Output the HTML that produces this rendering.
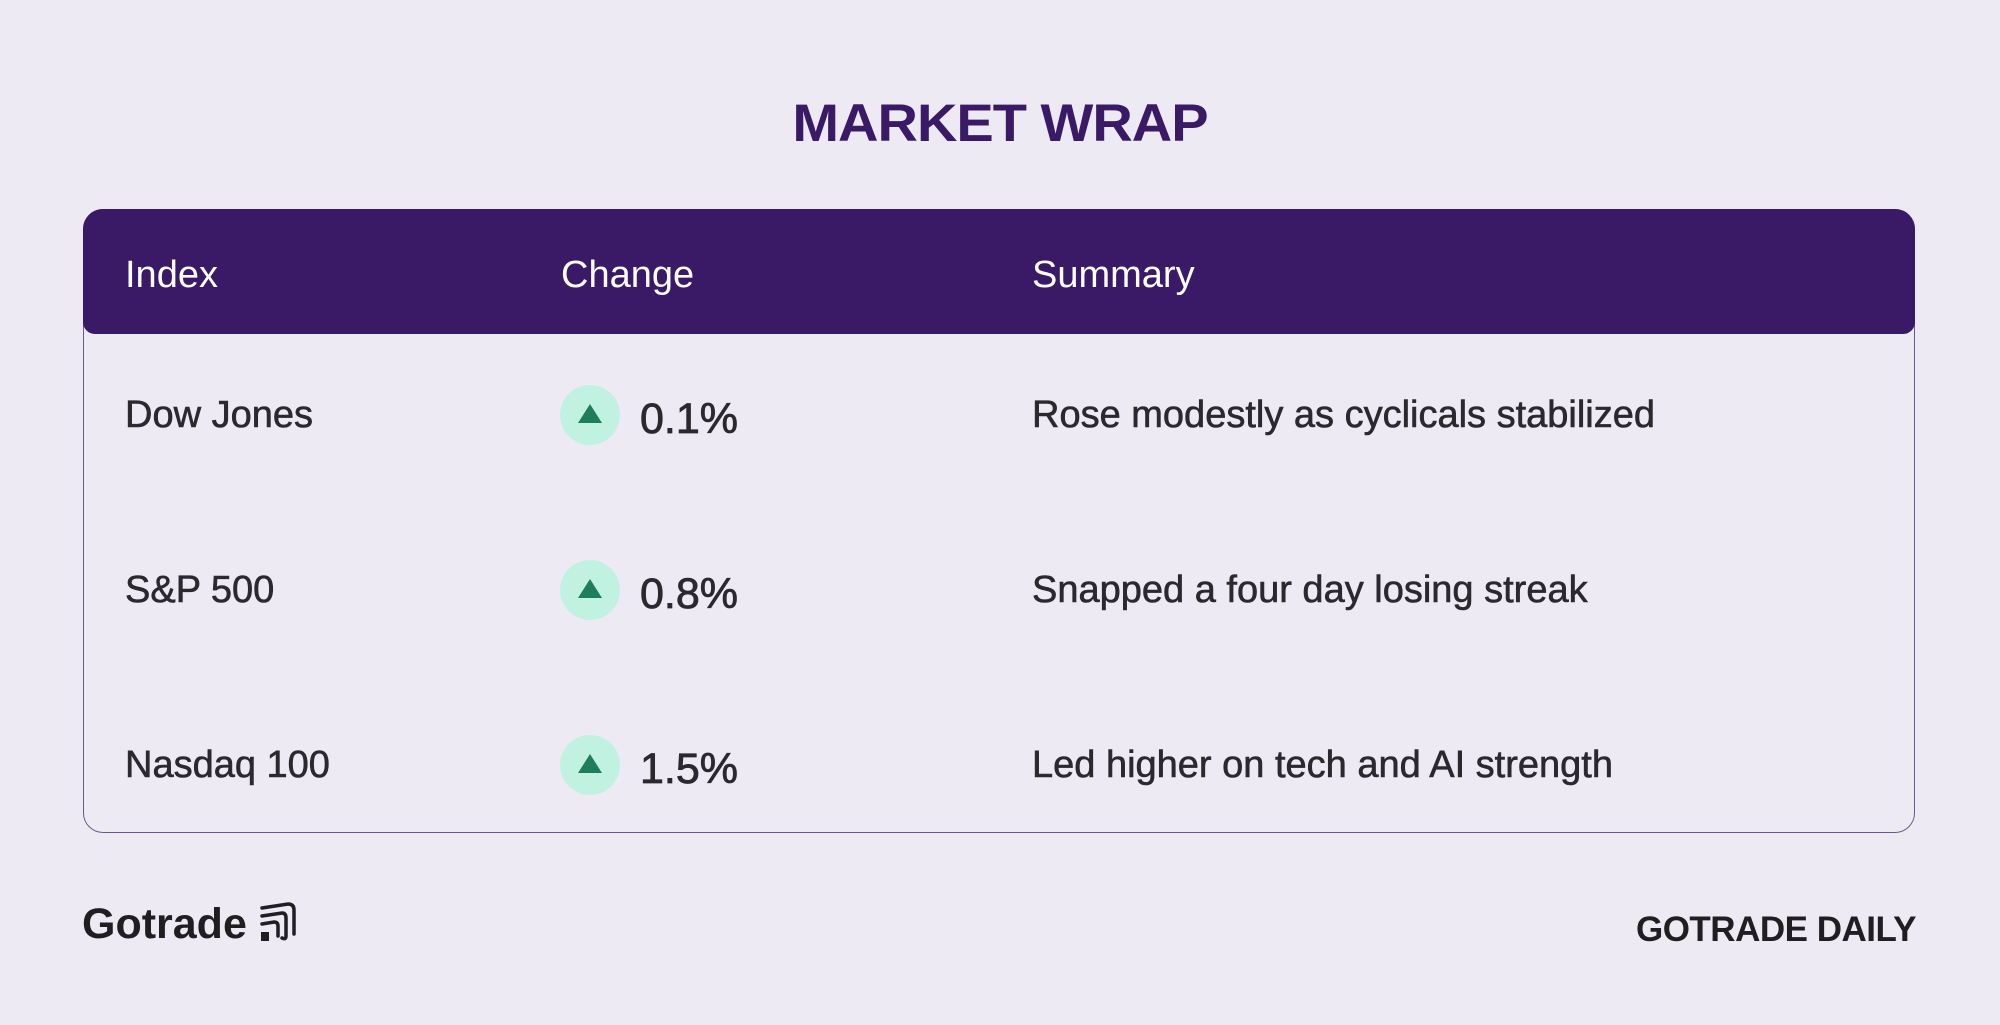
<!DOCTYPE html>
<html><head><meta charset="utf-8"><style>
html,body{margin:0;padding:0}
body{width:2000px;height:1025px;background:#edeaf3;position:relative;overflow:hidden;font-family:"Liberation Sans",sans-serif;color:#2a2a2e}
.abs{position:absolute}
#title{left:0;width:2000px;top:90px;text-align:center;font-size:56px;font-weight:900;color:#3a1a66;letter-spacing:-1px;transform:scaleY(0.95)}
#table{left:83px;top:209px;width:1832px;height:624px;border:1.5px solid #6a5a8c;border-radius:20px;box-sizing:border-box}
#header{left:83px;top:209px;width:1832px;height:125px;background:#3a1a66;border-radius:20px 20px 12px 12px}
.h{color:#fff;font-size:38px;top:254px}
.lab{font-size:38px;color:#2a2a2e;-webkit-text-stroke:0.6px #2a2a2e}
.circ{width:60px;height:60px;border-radius:50%;background:#c1f2e1}
.tri{width:0;height:0;border-left:12px solid transparent;border-right:12px solid transparent;border-bottom:19px solid #1e7d5a;left:18px;top:19px}
.val{font-size:43px;color:#2a2a2e;-webkit-text-stroke:0.8px #2a2a2e}
</style></head><body>
<div class="abs" id="title">MARKET WRAP</div>
<div class="abs" id="table"></div>
<div class="abs" id="header"></div>
<div class="abs h" style="left:125px">Index</div>
<div class="abs h" style="left:561px">Change</div>
<div class="abs h" style="left:1032px">Summary</div>

<div class="abs lab" style="left:125px;top:394px">Dow Jones</div>
<div class="abs circ" style="left:560px;top:385px"><div class="abs tri"></div></div>
<div class="abs val" style="left:640px;top:395px">0.1%</div>
<div class="abs lab" style="left:1032px;top:394px">Rose modestly as cyclicals stabilized</div>

<div class="abs lab" style="left:125px;top:569px">S&amp;P 500</div>
<div class="abs circ" style="left:560px;top:560px"><div class="abs tri"></div></div>
<div class="abs val" style="left:640px;top:570px">0.8%</div>
<div class="abs lab" style="left:1032px;top:569px">Snapped a four day losing streak</div>

<div class="abs lab" style="left:125px;top:744px">Nasdaq 100</div>
<div class="abs circ" style="left:560px;top:735px"><div class="abs tri"></div></div>
<div class="abs val" style="left:640px;top:745px">1.5%</div>
<div class="abs lab" style="left:1032px;top:744px">Led higher on tech and AI strength</div>

<div class="abs" style="left:82px;top:900px;font-size:43px;font-weight:700;color:#1f1f22">Gotrade</div>
<svg class="abs" style="left:258px;top:900px" width="40" height="44" viewBox="0 0 40 44">
<g fill="none" stroke="#1f1f22" stroke-width="3.5" stroke-linecap="round">
<path d="M4 8 L30 4 Q36 4 36 10 L36 34"/>
<path d="M4 16 L24 13 Q28 13 28 18 L28 36 Q28 40 24 38"/>
<path d="M4 24 L16 22 Q20 22 20 26 L20 36"/>
</g><rect x="3" y="32" width="8" height="9" fill="#1f1f22"/></svg>
<div class="abs" style="right:84px;top:910px;font-size:35px;font-weight:900;color:#1f1f22;letter-spacing:-0.5px">GOTRADE DAILY</div>
</body></html>
